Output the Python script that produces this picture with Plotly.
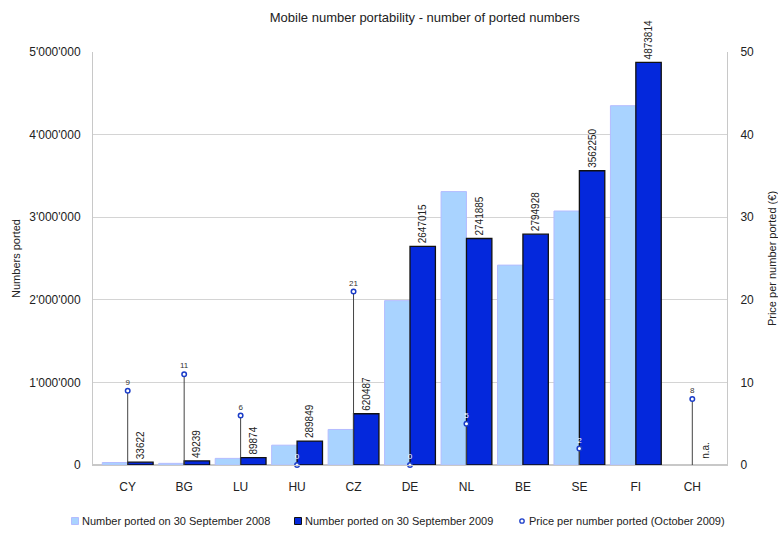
import plotly.graph_objects as go

# Countries and figures
countries = ["CY", "BG", "LU", "HU", "CZ", "DE", "NL", "BE", "SE", "FI", "CH"]
ported_2008 = [30000, 20000, 80000, 240000, 430000, 1990000, 3310000, 2420000, 3075000, 4350000, None]
ported_2009 = [33622, 49239, 89874, 289849, 620487, 2647015, 2741885, 2794928, 3562250, 4873814, None]
price_2009 = [9, 11, 6, 0, 21, 0, 5, None, 2, None, 8]

series_names = ["Number ported on 30 September 2008",
                "Number ported on 30 September 2009",
                "Price per number ported (October 2009)"]

price_label_colors = ["#333333", "#333333", "#333333", "#ffffff", "#333333",
                      "#ffffff", "#ffffff", "#333333", "#ffffff", "#333333", "#333333"]

FONT = "Liberation Sans, Arial, sans-serif"
LIGHT, LIGHT_EDGE = "#a9d3ff", "#b4bcff"
DARK, DARK_EDGE = "#0428dc", "#111111"
PRICE = "#1a3cc8"

W, H = 778, 534
L, R, T, B = 93, 51, 52, 69
PW, PH = W - L - R, H - T - B


def px_x(x):
    return (x - L) / PW


def px_y(y):
    return (H - B - y) / PH


fig = go.Figure()

fig.add_trace(go.Bar(
    x=countries, y=ported_2008, name=series_names[0],
    marker=dict(color=LIGHT, line=dict(color=LIGHT_EDGE, width=1)),
))

fig.add_trace(go.Bar(
    x=countries, y=ported_2009, name=series_names[1],
    marker=dict(color=DARK, line=dict(color=DARK_EDGE, width=1.3)),
    text=[str(v) if v is not None else "" for v in ported_2009],
    textposition="outside",
    textangle=-90,
    constraintext="none",
    cliponaxis=False,
    textfont=dict(family=FONT, size=10, color="#222222"),
))

# Price per ported number, with drop lines to the baseline
fig.add_trace(go.Scatter(
    x=countries, y=price_2009, yaxis="y2", name=series_names[2],
    mode="markers+text",
    marker=dict(symbol="circle", size=4.5, color="#ffffff",
                line=dict(color=PRICE, width=1.5)),
    text=["" if p is None else str(p) for p in price_2009],
    textposition="top center",
    textfont=dict(family=FONT, size=8, color=price_label_colors),
    error_y=dict(type="data", symmetric=False,
                 array=[0 if p is not None else None for p in price_2009],
                 arrayminus=price_2009,
                 width=0, thickness=1, color="#444444"),
    cliponaxis=False,
))

# Switzerland has no 2009 figure
fig.add_annotation(
    x="CH", y=0, xref="x", yref="y",
    text="n.a.", textangle=-90, showarrow=False,
    xshift=13, yshift=4, yanchor="bottom",
    font=dict(family=FONT, size=10, color="#222222"),
)

# Compact legend row beneath the axis labels
legend_y = 521
legend_items = [
    (75, dict(type="rect", fillcolor=LIGHT, line=dict(color=LIGHT_EDGE, width=1))),
    (298, dict(type="rect", fillcolor=DARK, line=dict(color=DARK_EDGE, width=1))),
    (522, dict(type="circle", fillcolor="#ffffff", line=dict(color=PRICE, width=1.3))),
]
for (sx, style), label in zip(legend_items, series_names):
    half = 3.5 if style["type"] == "rect" else 2.2
    fig.add_shape(xref="paper", yref="paper",
                  x0=px_x(sx - half), x1=px_x(sx + half),
                  y0=px_y(legend_y + half), y1=px_y(legend_y - half),
                  **style)
    fig.add_annotation(xref="paper", yref="paper",
                       x=px_x(sx + 4.5), y=px_y(legend_y),
                       xanchor="left", yanchor="middle", showarrow=False,
                       text=label, font=dict(family=FONT, size=11, color="#222222"))

fig.update_layout(
    width=W, height=H,
    margin=dict(l=L, r=R, t=T, b=B),
    paper_bgcolor="white", plot_bgcolor="white",
    separators=".'",
    barmode="group", bargap=0.1, bargroupgap=0,
    showlegend=False,
    font=dict(family=FONT, size=12, color="#222222"),
    title=dict(text="Mobile number portability - number of ported numbers",
               x=0.546, xref="container", xanchor="center",
               y=0.968, yref="container", yanchor="middle",
               font=dict(family=FONT, size=13, color="#222222")),
    xaxis=dict(showgrid=False, showline=True, linecolor="#c8c8c8",
               ticks="", tickfont=dict(size=12), ticklabelstandoff=11,
               automargin=False),
    yaxis=dict(range=[0, 5000000], dtick=1000000, tickformat=",d",
               showgrid=True, gridcolor="#d4d4d4", gridwidth=1,
               zeroline=True, zerolinecolor="#c8c8c8",
               showline=True, linecolor="#c8c8c8",
               ticks="", ticklabelstandoff=9, tickfont=dict(size=12),
               automargin=False,
               title=dict(text="Numbers ported", standoff=6,
                          font=dict(size=11))),
    yaxis2=dict(range=[0, 50], dtick=10, overlaying="y", side="right",
                showgrid=False, zeroline=False,
                showline=True, linecolor="#c8c8c8",
                ticks="", ticklabelstandoff=10, tickfont=dict(size=12),
                automargin=False,
                title=dict(text="Price per number ported (€)", standoff=22,
                           font=dict(size=11))),
)

fig.write_html("out.html")
